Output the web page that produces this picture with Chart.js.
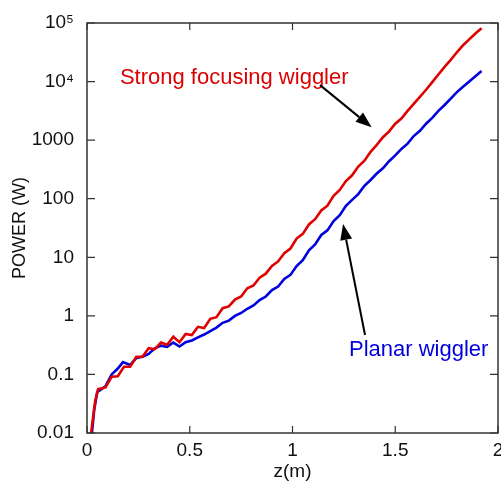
<!DOCTYPE html>
<html>
<head>
<meta charset="utf-8">
<script src="https://cdn.jsdelivr.net/npm/chart.js@4/dist/chart.umd.min.js"></script>
<style>
  html, body { margin: 0; padding: 0; background: #fff; overflow: hidden; }
  #wrap { width: 501px; height: 483px; }
</style>
</head>
<body>
<div id="wrap"><canvas id="chart"></canvas></div>
<script>
// Strong focusing wiggler (red)
const redZ = [0.02, 0.04, 0.054, 0.09, 0.12, 0.15, 0.18, 0.21, 0.24, 0.27, 0.30, 0.33, 0.36, 0.39, 0.42, 0.45,
  0.48, 0.51, 0.54, 0.57, 0.60, 0.63, 0.66, 0.69, 0.72, 0.75, 0.78, 0.81, 0.84, 0.87, 0.90, 0.93, 0.96, 0.99,
  1.02, 1.05, 1.08, 1.11, 1.14, 1.17, 1.20, 1.23, 1.26, 1.29, 1.32, 1.35, 1.38, 1.41, 1.44, 1.47, 1.50, 1.53,
  1.56, 1.59, 1.62, 1.65, 1.68, 1.71, 1.74, 1.77, 1.80, 1.83, 1.86, 1.89, 1.92];
const redPower = [0.01, 0.0355, 0.056, 0.060, 0.091, 0.093, 0.135, 0.135, 0.20, 0.20, 0.28, 0.27, 0.35, 0.32, 0.44, 0.355,
  0.49, 0.47, 0.65, 0.62, 0.89, 0.95, 1.35, 1.45, 1.9, 2.14, 2.95, 3.3, 4.47, 5.25, 7.1, 8.5, 11.7, 14.1,
  20.9, 25.1, 36.3, 44.7, 63, 76, 112, 141, 200, 251, 355, 447, 631, 832, 1122, 1413, 1905, 2344,
  3162, 4169, 5495, 7244, 9772, 13183, 17783, 23442, 31623, 41687, 52481, 66069, 81283];

// Planar wiggler (blue)
const blueZ = [0.024, 0.035, 0.05, 0.07, 0.09, 0.12, 0.15, 0.175, 0.21, 0.24, 0.27, 0.30, 0.33, 0.36, 0.39, 0.42,
  0.45, 0.48, 0.51, 0.54, 0.57, 0.60, 0.63, 0.66, 0.69, 0.72, 0.75, 0.78, 0.81, 0.84, 0.87, 0.90, 0.93, 0.96,
  0.99, 1.02, 1.05, 1.08, 1.11, 1.14, 1.17, 1.20, 1.23, 1.26, 1.29, 1.32, 1.35, 1.38, 1.41, 1.44, 1.47, 1.50,
  1.53, 1.56, 1.59, 1.62, 1.65, 1.68, 1.71, 1.74, 1.77, 1.80, 1.83, 1.86, 1.89, 1.92];
const bluePower = [0.01, 0.025, 0.05, 0.056, 0.063, 0.10, 0.126, 0.162, 0.145, 0.19, 0.20, 0.224, 0.28, 0.31, 0.295, 0.35,
  0.30, 0.355, 0.38, 0.43, 0.48, 0.55, 0.63, 0.76, 0.83, 1.0, 1.12, 1.32, 1.51, 1.86, 2.14, 2.75, 3.16, 4.27,
  5.0, 7.1, 8.9, 13.2, 16.6, 24, 28.8, 41.7, 52.5, 75.9, 95.5, 120, 166, 209, 269, 331, 437, 550,
  708, 871, 1175, 1445, 1905, 2399, 3162, 3981, 5129, 6607, 8128, 10000, 12303, 15136];

// Axis ticks
const xTicks = [0, 0.5, 1, 1.5, 2];
const xTickLabels = ['0', '0.5', '1', '1.5', '2'];
const yTicks = [0.01, 0.1, 1, 10, 100, 1000, 1e4, 1e5];
const yTickLabels = ['0.01', '0.1', '1', '10', '100', '1000', '10\u2074', '10\u2075'];

// Annotations (data coordinates)
const labels = [
  { text: 'Strong focusing wiggler', z: 0.16, p: 1.15e4, color: '#dd0000' },
  { text: 'Planar wiggler', z: 1.275, p: 0.26, color: '#0000dd' }
];
const arrows = [
  { from: [1.134, 8700], to: [1.385, 1660] },
  { from: [1.353, 0.47], to: [1.246, 37] }
];

const FONT = '"Liberation Sans", Arial, sans-serif';

const frameAndNotes = {
  id: 'frameAndNotes',
  afterDraw(chart) {
    const { ctx, chartArea: a, scales: { x, y } } = chart;
    ctx.save();
    // box frame
    ctx.strokeStyle = '#333';
    ctx.lineWidth = 1.5;
    ctx.strokeRect(a.left, a.top, a.right - a.left, a.bottom - a.top);
    // inward ticks on all four sides
    ctx.lineWidth = 1.2;
    ctx.beginPath();
    xTicks.forEach(v => {
      const px = x.getPixelForValue(v);
      ctx.moveTo(px, a.bottom); ctx.lineTo(px, a.bottom - 7);
      ctx.moveTo(px, a.top); ctx.lineTo(px, a.top + 7);
    });
    yTicks.forEach(v => {
      const py = y.getPixelForValue(v);
      ctx.moveTo(a.left, py); ctx.lineTo(a.left + 8, py);
      ctx.moveTo(a.right, py); ctx.lineTo(a.right - 8, py);
    });
    ctx.stroke();

    // text labels
    ctx.font = '22px ' + FONT;
    ctx.textAlign = 'left';
    ctx.textBaseline = 'middle';
    labels.forEach(l => {
      ctx.fillStyle = l.color;
      ctx.fillText(l.text, x.getPixelForValue(l.z), y.getPixelForValue(l.p));
    });

    // arrows
    ctx.strokeStyle = '#000';
    ctx.fillStyle = '#000';
    ctx.lineWidth = 2;
    arrows.forEach(ar => {
      const x1 = x.getPixelForValue(ar.from[0]), y1 = y.getPixelForValue(ar.from[1]);
      const x2 = x.getPixelForValue(ar.to[0]), y2 = y.getPixelForValue(ar.to[1]);
      const ang = Math.atan2(y2 - y1, x2 - x1);
      const len = 16, half = 6;
      const bx = x2 - len * Math.cos(ang), by = y2 - len * Math.sin(ang);
      ctx.beginPath();
      ctx.moveTo(x1, y1); ctx.lineTo(bx, by);
      ctx.stroke();
      ctx.beginPath();
      ctx.moveTo(x2, y2);
      ctx.lineTo(bx + half * Math.sin(ang), by - half * Math.cos(ang));
      ctx.lineTo(bx - half * Math.sin(ang), by + half * Math.cos(ang));
      ctx.closePath();
      ctx.fill();
    });
    ctx.restore();
  }
};

const ctx = document.getElementById('chart').getContext('2d');
new Chart(ctx, {
  type: 'line',
  data: {
    datasets: [
      {
        label: 'Strong focusing wiggler',
        data: redZ.map((z, i) => ({ x: z, y: redPower[i] })),
        borderColor: '#e00000',
        borderWidth: 2.6,
        pointRadius: 0,
        tension: 0,
        fill: false
      },
      {
        label: 'Planar wiggler',
        data: blueZ.map((z, i) => ({ x: z, y: bluePower[i] })),
        borderColor: '#0000dd',
        borderWidth: 2.6,
        pointRadius: 0,
        tension: 0,
        fill: false
      }
    ]
  },
  options: {
    responsive: true,
    maintainAspectRatio: false,
    animation: false,
    layout: { autoPadding: false, padding: { top: 23, right: 3, left: 0, bottom: 0 } },
    plugins: { legend: { display: false }, tooltip: { enabled: false } },
    scales: {
      x: {
        type: 'linear',
        min: 0,
        max: 2,
        afterFit: s => { s.height = 50; s.paddingLeft = 0; s.paddingRight = 0; },
        afterBuildTicks: s => { s.ticks = xTicks.map(v => ({ value: v })); },
        grid: { display: false, drawTicks: false },
        border: { display: false },
        ticks: {
          padding: 6,
          color: '#111',
          font: { family: FONT, size: 19 },
          maxRotation: 0,
          callback: (v) => xTickLabels[xTicks.indexOf(v)]
        },
        title: {
          display: true,
          text: 'z(m)',
          color: '#111',
          font: { family: FONT, size: 19 },
          padding: { top: 0, bottom: 0 }
        }
      },
      y: {
        type: 'logarithmic',
        min: 0.01,
        max: 1e5,
        afterFit: s => { s.width = 87; s.paddingTop = 0; s.paddingBottom = 0; },
        afterBuildTicks: s => { s.ticks = yTicks.map(v => ({ value: v })); },
        grid: { display: false, drawTicks: false },
        border: { display: false },
        ticks: {
          padding: 13,
          color: '#111',
          font: { family: FONT, size: 19 },
          callback: (v) => yTickLabels[yTicks.indexOf(v)]
        },
        title: {
          display: true,
          text: 'POWER (W)',
          color: '#111',
          font: { family: FONT, size: 18 },
          padding: { top: 9, bottom: 0 }
        }
      }
    }
  },
  plugins: [frameAndNotes]
});
</script>
</body>
</html>
